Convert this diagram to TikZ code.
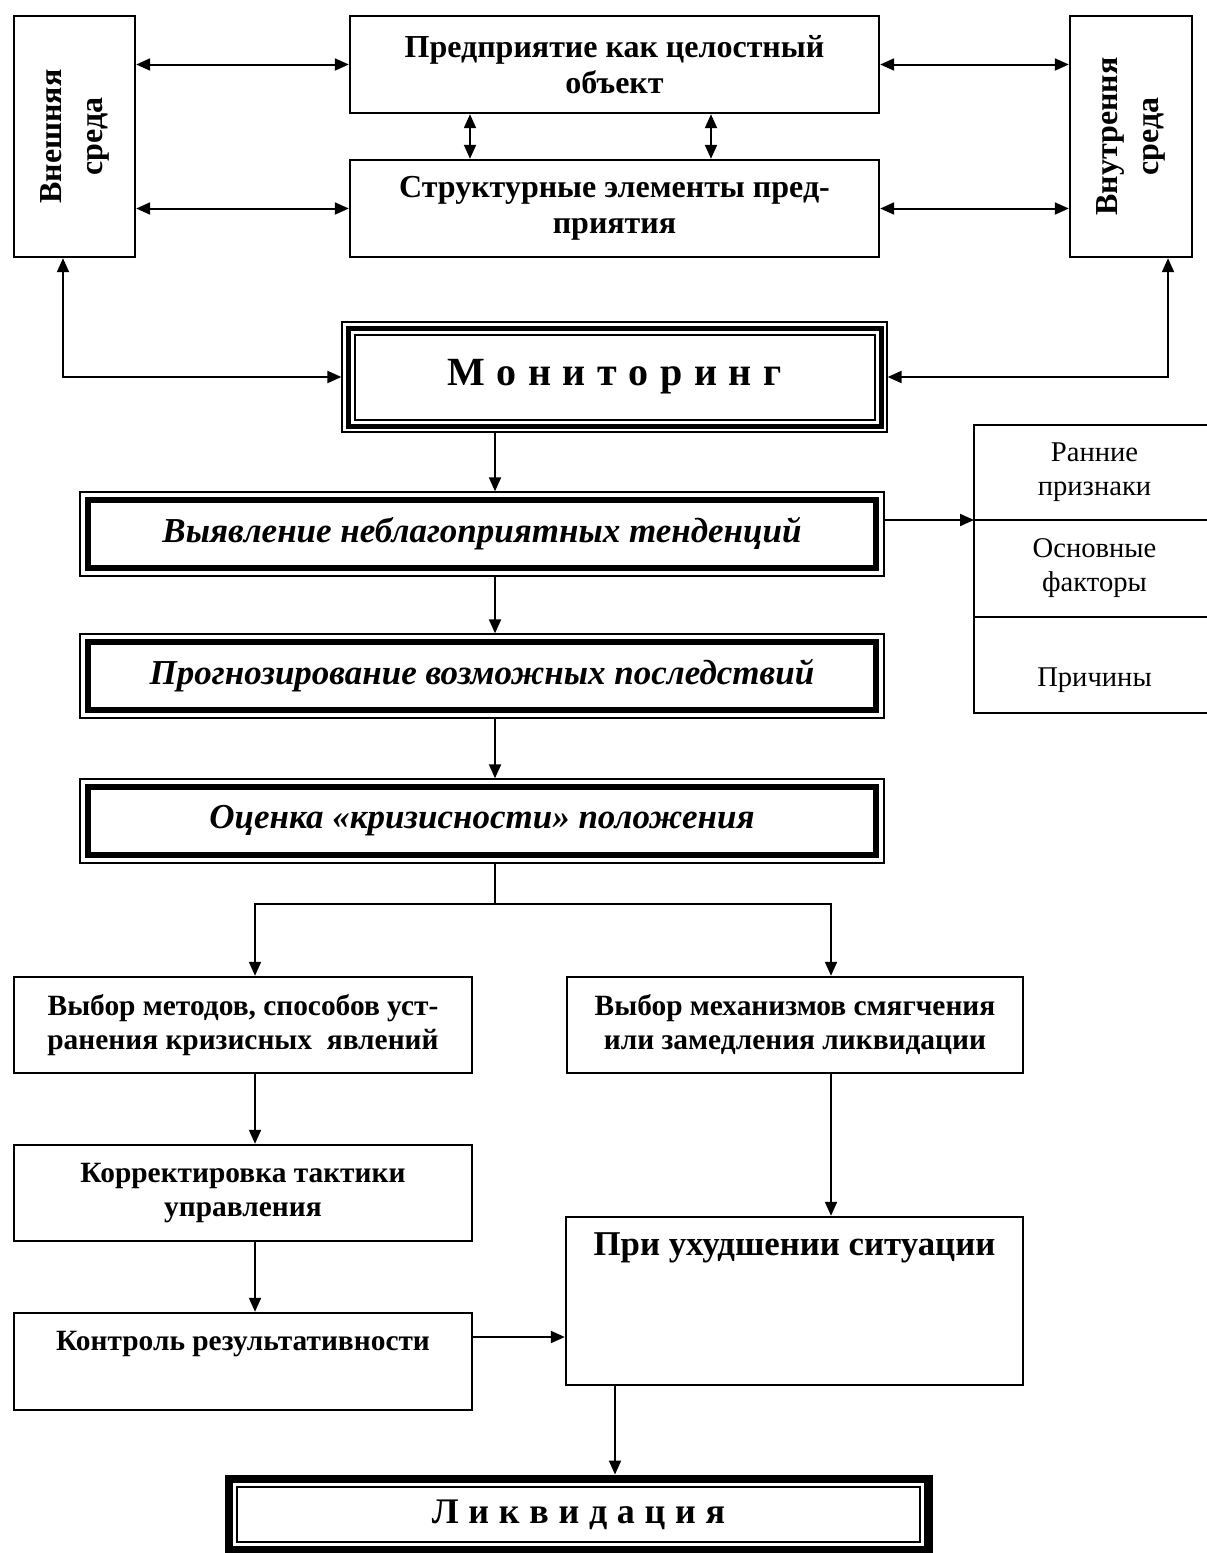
\documentclass[tikz,border=0pt]{standalone}
\usepackage{fontspec}
\setmainfont{Liberation Serif}
\usetikzlibrary{positioning, arrows.meta}

\begin{document}
\begin{tikzpicture}[x=0.5pt, y=-0.5pt,
		>={Triangle[length=7pt, width=6pt]},
		conn/.style={line width=1pt},
		plainbox/.style={draw, line width=1.2pt, align=center, inner sep=2pt,
				font=\fontsize{14.7}{17}\selectfont\bfseries},
		topbox/.style={plainbox, minimum width=264.5pt, minimum height=48.5pt,
				font=\fontsize{16}{18}\selectfont\bfseries},
		sidebox/.style={draw, line width=1.2pt, minimum width=60.5pt, minimum height=120.5pt},
		sidetext/.style={rotate=90, align=center, font=\fontsize{16}{20.5}\selectfont\bfseries},
		cell/.style={draw, line width=1pt, outer sep=0pt, minimum width=120.5pt, align=center,
				font=\fontsize{14.3}{17}\selectfont},
		trendbox/.style={draw, line width=0.7pt, minimum width=402pt, minimum height=42pt,
				font=\fontsize{17.5}{20}\selectfont\bfseries\itshape,
				path picture={\draw[line width=3pt] ([shift={(4pt,-4pt)}]path picture bounding box.north west)
						rectangle ([shift={(-4pt,4pt)}]path picture bounding box.south east);}},
		monbox/.style={draw, line width=0.6pt, minimum width=272.5pt, minimum height=55pt,
				font=\fontsize{20}{22}\selectfont\bfseries,
				path picture={\draw[line width=2.5pt] ([shift={(3pt,-3pt)}]path picture bounding box.north west)
						rectangle ([shift={(-3pt,3pt)}]path picture bounding box.south east);
					\draw[line width=1pt] ([shift={(6.25pt,-6.25pt)}]path picture bounding box.north west)
						rectangle ([shift={(-6.25pt,6.25pt)}]path picture bounding box.south east);}},
		endbox/.style={draw, line width=0.5pt, minimum width=353.5pt, minimum height=39.5pt,
				font=\fontsize{18}{20}\selectfont\bfseries,
				path picture={\draw[line width=4pt] ([shift={(2pt,-2pt)}]path picture bounding box.north west)
						rectangle ([shift={(-2pt,2pt)}]path picture bounding box.south east);
					\draw[line width=0.8pt] ([shift={(6pt,-6pt)}]path picture bounding box.north west)
						rectangle ([shift={(-6pt,6pt)}]path picture bounding box.south east);}}
	]
	\useasboundingbox (0,0) rectangle (1206,1553);

	% Nodes
	\node (vnesh) [sidebox] at (74.5,136.5) {};
	\node (vneshtext) [sidetext] at (vnesh.center) {Внешняя\\среда};
	\node (pred) [topbox] at (614.5,64.5) {Предприятие как целостный\\объект};
	\node (struct) [topbox] at (614.5,208.5) {Структурные элементы пред-\\приятия};
	\node (vnutr) [sidebox, minimum width=61pt] at (1131,136.5) {};
	\node (vnutrtext) [sidetext] at (vnutr.center) {Внутрення\\среда};

	\node (mon) [monbox] at (614.5,377) {\spaceskip=.29em М о н и т о р и н г};
	\node (vyav) [trendbox] at (482,534) {Выявление неблагоприятных тенденций};
	\node (prog) [trendbox] at (482,676) {Прогнозирование возможных последствий};
	\node (ocen) [trendbox] at (482,821) {Оценка «кризисности» положения};

	% signs on the right
	\node (early) [cell, minimum height=47.5pt] at (1094.5,472.5) {Ранние\\признаки};
	\node (factors) [cell, minimum height=48.5pt, below=0pt of early] {Основные\\факторы};
	\node (causes) [cell, minimum height=48pt, below=0pt of factors] {};
	\node (causestext) [font=\fontsize{14.3}{17}\selectfont] at ([yshift=-7.5pt]causes.center) {Причины};

	\node (metody) [plainbox, minimum width=229pt, minimum height=48pt] at (243,1025)
	{Выбор методов, способов уст-\\ранения кризисных\ \ явлений};
	\node (mekh) [plainbox, minimum width=228pt, minimum height=48pt] at (795,1025)
	{Выбор механизмов смягчения\\или замедления ликвидации};
	\node (korr) [plainbox, minimum width=229pt, minimum height=48pt] at (243,1193)
	{Корректировка тактики\\управления};
	\node (kontr) [plainbox, minimum width=229pt, minimum height=48.5pt] at (243,1361.5) {};
	\node (kontrtext) [font=\fontsize{14.7}{17}\selectfont\bfseries] at ([yshift=-16pt]kontr.north)
	{Контроль результативности};
	\node (ukhud) [plainbox, minimum width=228.5pt, minimum height=84pt] at (794.5,1301) {};
	\node (ukhudtext) [font=\fontsize{17.4}{20}\selectfont\bfseries] at ([yshift=-16pt]ukhud.north)
	{При ухудшении ситуации};
	\node (likv) [endbox] at (578.5,1514.5) {\raisebox{-1.5pt}{\spaceskip=.27em Л и к в и д а ц и я}};

	% turning points
	\coordinate (lturn) at (63,377);
	\coordinate (rturn) at (1168,377);
	\coordinate (spine) at (495,904);
	\coordinate (lfork) at (255,904);
	\coordinate (rfork) at (831,904);
	\coordinate (kjoin) at (520,1337);
	\coordinate (ldrop) at (615,1430);

	% Arrows
	\draw[conn, <->] (vnesh.east |- pred.west) -- (pred.west);
	\draw[conn, <->] (vnesh.east |- struct.west) -- (struct.west);
	\draw[conn, <->] (pred.east) -- (vnutr.west |- pred.east);
	\draw[conn, <->] (struct.east) -- (vnutr.west |- struct.east);
	\draw[conn, <->] ([xshift=-72.25pt]pred.south) -- ([xshift=-72.25pt]struct.north);
	\draw[conn, <->] ([xshift=48.25pt]pred.south) -- ([xshift=48.25pt]struct.north);
	\draw[conn, <->] (vnesh.south -| lturn) -- (lturn) -- (mon.west);
	\draw[conn, <->] (vnutr.south -| rturn) -- (rturn) -- (mon.east);

	\draw[conn, ->] (mon.south -| spine) -- (vyav.north -| spine);
	\draw[conn, ->] (vyav.east |- early.south) -- (early.south west);
	\draw[conn, ->] (vyav.south -| spine) -- (prog.north -| spine);
	\draw[conn, ->] (prog.south -| spine) -- (ocen.north -| spine);

	\draw[conn] (ocen.south -| spine) -- (spine);
	\draw[conn, ->] (spine) -- (lfork) -- (metody.north -| lfork);
	\draw[conn, ->] (spine) -- (rfork) -- (mekh.north -| rfork);
	\draw[conn, ->] (metody.south -| lfork) -- (korr.north -| lfork);
	\draw[conn, ->] (korr.south -| lfork) -- (kontr.north -| lfork);
	\draw[conn, ->] (mekh.south -| rfork) -- (ukhud.north -| rfork);
	\draw[conn, ->] (kontr.east |- kjoin) -- (ukhud.west |- kjoin);
	\draw[conn, ->] (ukhud.south -| ldrop) -- (likv.north -| ldrop);
\end{tikzpicture}
\end{document}
